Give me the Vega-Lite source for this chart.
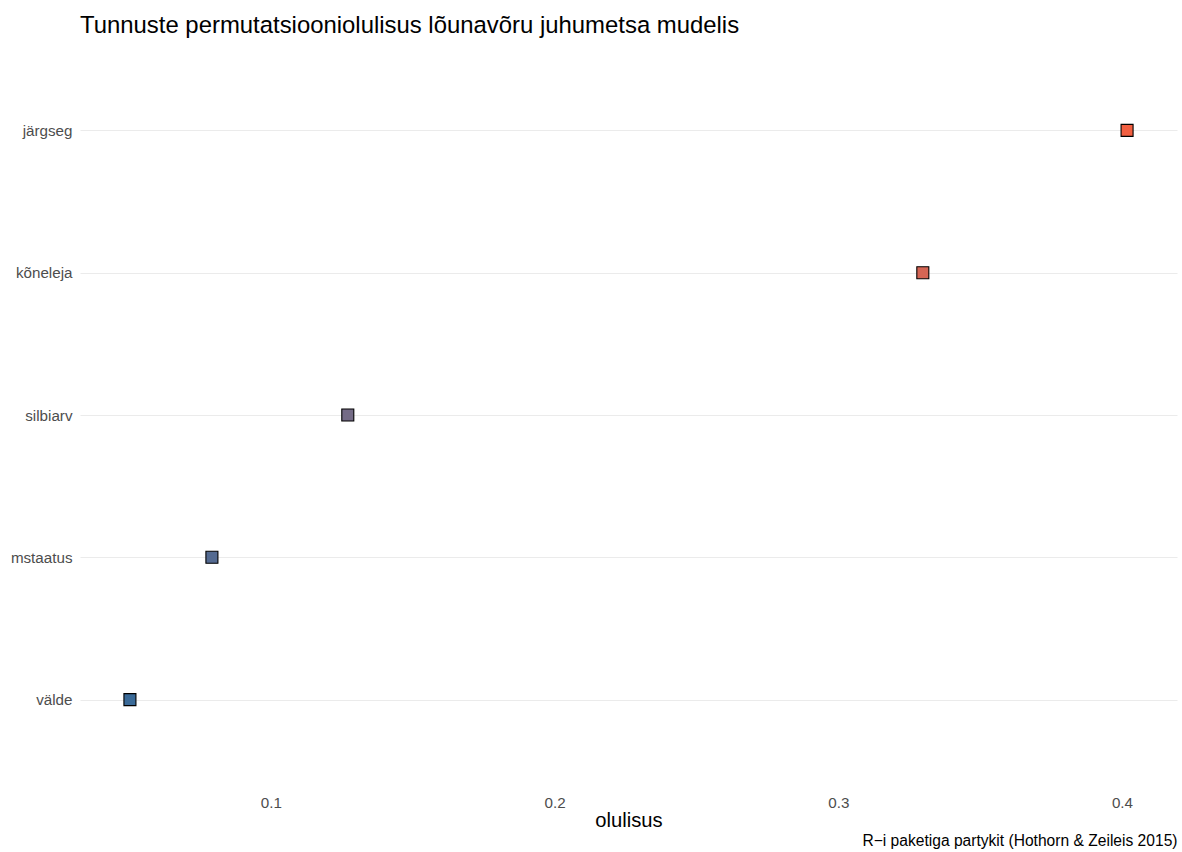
{
  "$schema": "https://vega.github.io/schema/vega-lite/v6.json",
  "width": 1097,
  "height": 740,
  "autosize": {"type": "none"},
  "padding": {"left": 80, "top": 45, "right": 5, "bottom": 67},
  "background": "white",
  "config": {
    "font": "Liberation Sans",
    "view": {"stroke": null}
  },
  "title": {
    "text": "Tunnuste permutatsiooniolulisus lõunavõru juhumetsa mudelis",
    "anchor": "start",
    "frame": "group",
    "fontSize": 23.9,
    "fontWeight": "normal",
    "color": "black",
    "baseline": "bottom",
    "offset": 7,
    "dy": 24
  },
  "data": {
    "values": [
      {"tunnus": "järgseg", "olulisus": 0.4018},
      {"tunnus": "kõneleja", "olulisus": 0.3298},
      {"tunnus": "silbiarv", "olulisus": 0.1271},
      {"tunnus": "mstaatus", "olulisus": 0.0792},
      {"tunnus": "välde", "olulisus": 0.0503}
    ]
  },
  "layer": [
    {
      "mark": {"type": "point", "shape": "square", "filled": true, "size": 144, "stroke": "black", "strokeWidth": 1.1, "opacity": 1},
      "encoding": {
        "x": {
          "field": "olulisus",
          "type": "quantitative",
          "scale": {"domain": [0.0327, 0.4194], "nice": false, "zero": false},
          "axis": {
            "values": [0.1, 0.2, 0.3, 0.4],
            "format": ".1f",
            "grid": false,
            "domain": false,
            "ticks": false,
            "tickSize": 0,
            "labelPadding": 10,
            "labelFontSize": 15.2,
            "labelColor": "#4d4d4d",
            "title": "olulisus",
            "titleFontSize": 20.2,
            "titleFontWeight": "normal",
            "titleColor": "black",
            "titlePadding": 0
          }
        },
        "y": {
          "field": "tunnus",
          "type": "nominal",
          "sort": ["järgseg", "kõneleja", "silbiarv", "mstaatus", "välde"],
          "scale": {"type": "point", "padding": 0.6},
          "axis": {
            "title": null,
            "domain": false,
            "ticks": false,
            "tickSize": 0,
            "labelPadding": 8,
            "labelFontSize": 15.2,
            "labelColor": "#4d4d4d",
            "grid": true,
            "gridColor": "#ebebeb",
            "gridWidth": 1.1
          }
        },
        "fill": {
          "field": "olulisus",
          "type": "quantitative",
          "scale": {"range": ["#3a6a98", "#f25f41"], "interpolate": "lab"},
          "legend": null
        }
      }
    },
    {
      "mark": {"type": "point", "opacity": 0},
      "encoding": {
        "x": {
          "field": "olulisus",
          "type": "quantitative",
          "axis": {
            "orient": "bottom",
            "labels": false,
            "ticks": false,
            "tickSize": 0,
            "domain": false,
            "grid": false,
            "title": "R−i paketiga partykit (Hothorn & Zeileis 2015)",
            "titleAnchor": "end",
            "titleFontSize": 15.6,
            "titleFontWeight": "normal",
            "titleColor": "black",
            "titlePadding": 48
          }
        }
      }
    }
  ],
  "resolve": {"scale": {"x": "shared"}, "axis": {"x": "independent"}}
}
